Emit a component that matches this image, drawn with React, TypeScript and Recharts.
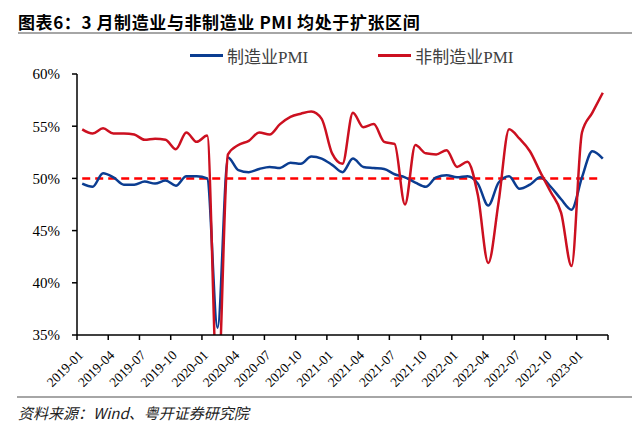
import React from 'react';
import { LineChart, Line, XAxis, YAxis, ReferenceLine } from 'recharts';

const months = [
  '2019-01', '2019-02', '2019-03', '2019-04', '2019-05', '2019-06', '2019-07', '2019-08', '2019-09', '2019-10', '2019-11', '2019-12',
  '2020-01', '2020-02', '2020-03', '2020-04', '2020-05', '2020-06', '2020-07', '2020-08', '2020-09', '2020-10', '2020-11', '2020-12',
  '2021-01', '2021-02', '2021-03', '2021-04', '2021-05', '2021-06', '2021-07', '2021-08', '2021-09', '2021-10', '2021-11', '2021-12',
  '2022-01', '2022-02', '2022-03', '2022-04', '2022-05', '2022-06', '2022-07', '2022-08', '2022-09', '2022-10', '2022-11', '2022-12',
  '2023-01', '2023-02', '2023-03',
];

// 制造业PMI
const mfgPmi = [
  49.5, 49.2, 50.5, 50.1, 49.4, 49.4, 49.7, 49.5, 49.8, 49.3, 50.2, 50.2,
  50.0, 35.7, 52.0, 50.8, 50.6, 50.9, 51.1, 51.0, 51.5, 51.4, 52.1, 51.9,
  51.3, 50.6, 51.9, 51.1, 51.0, 50.9, 50.4, 50.1, 49.6, 49.2, 50.1, 50.3,
  50.1, 50.2, 49.5, 47.4, 49.6, 50.2, 49.0, 49.4, 50.1, 49.2, 48.0, 47.0,
  50.1, 52.6, 51.9,
];

// 非制造业PMI
const nonMfgPmi = [
  54.7, 54.3, 54.8, 54.3, 54.3, 54.2, 53.7, 53.8, 53.7, 52.8, 54.4, 53.5,
  54.1, 29.6, 52.3, 53.2, 53.6, 54.4, 54.2, 55.2, 55.9, 56.2, 56.4, 55.7,
  52.4, 51.4, 56.3, 54.9, 55.2, 53.5, 53.3, 47.5, 53.2, 52.4, 52.3, 52.7,
  51.1, 51.6, 48.4, 41.9, 47.8, 54.7, 53.8, 52.6, 50.6, 48.7, 46.7, 41.6,
  54.4, 56.3, 58.2,
];

const yTicks = [35, 40, 45, 50, 55, 60];
const xTicks = [0, 3, 6, 9, 12, 15, 18, 21, 24, 27, 30, 33, 36, 39, 42, 45, 48, 51];
const threshold = 50;
const thresholdFrom = 0.5;
const thresholdTo = 50;

const data = months.map((m, i) => ({ pos: i + 0.5, month: m, mfg: mfgPmi[i], nonMfg: nonMfgPmi[i] }));

const BLUE = '#0b3d91';
const RED = '#cc1020';
const SERIF = '"Liberation Serif", "Times New Roman", "Noto Sans CJK SC", serif';
const CJK = '"Noto Sans CJK SC", sans-serif';

const XTick = (props: any) => {
  const { x, y, payload } = props;
  const label = months[payload.value];
  if (!label) return null;
  return (
    <text
      x={x + 7}
      y={y + 14}
      textAnchor="end"
      fontFamily={SERIF}
      fontSize={13.5}
      fill="#000"
      transform={`rotate(-45, ${x + 7}, ${y + 14})`}
    >
      {label}
    </text>
  );
};

export default function App() {
  return (
    <div style={{ position: 'absolute', left: 0, top: 0, width: 640, height: 431, background: '#fff', overflow: 'hidden' }}>
      <div style={{ position: 'absolute', left: 18, top: 9, fontFamily: CJK, fontWeight: 700, fontSize: 17, color: '#000', whiteSpace: 'nowrap', letterSpacing: 0.6 }}>
        图表6：3 月制造业与非制造业 PMI 均处于扩张区间
      </div>
      <div style={{ position: 'absolute', left: 18, top: 32, width: 614, height: 2, background: '#a6a6a6' }} />

      <div style={{ position: 'absolute', left: 190, top: 43, display: 'flex', alignItems: 'center', fontFamily: SERIF, fontSize: 17, color: '#404040', whiteSpace: 'nowrap' }}>
        <span style={{ display: 'inline-block', width: 33, height: 3, background: BLUE, marginRight: 4 }} />
        <span>制造业PMI</span>
        <span style={{ display: 'inline-block', width: 70 }} />
        <span style={{ display: 'inline-block', width: 33, height: 3, background: RED, marginRight: 4 }} />
        <span>非制造业PMI</span>
      </div>

      <div style={{ position: 'absolute', left: 0, top: 0 }}>
        <LineChart width={640} height={431} data={data} margin={{ top: 74, right: 32, left: 17, bottom: 36 }}>
          <XAxis
            dataKey="pos"
            type="number"
            domain={[0, 51]}
            ticks={xTicks}
            interval={0}
            tick={<XTick />}
            tickSize={5}
            axisLine={{ stroke: '#000', strokeWidth: 1.5 }}
            tickLine={{ stroke: '#000', strokeWidth: 1.5 }}
            height={60}
          />
          <YAxis
            domain={[35, 60]}
            ticks={yTicks}
            allowDataOverflow
            interval={0}
            width={60}
            tickSize={5}
            tickMargin={12}
            tickFormatter={(v: number) => `${v}%`}
            tick={{ fontFamily: SERIF, fontSize: 15, fill: '#000' }}
            axisLine={{ stroke: '#000', strokeWidth: 1.5 }}
            tickLine={{ stroke: '#000', strokeWidth: 1.5 }}
          />
          <ReferenceLine
            segment={[{ x: thresholdFrom, y: threshold }, { x: thresholdTo, y: threshold }]}
            stroke="#ff0000"
            strokeWidth={2.5}
            strokeDasharray="8 5"
          />
          <Line type="monotone" dataKey="mfg" stroke={BLUE} strokeWidth={2.5} dot={false} isAnimationActive={false} />
          <Line type="monotone" dataKey="nonMfg" stroke={RED} strokeWidth={2.5} dot={false} isAnimationActive={false} />
        </LineChart>
      </div>

      <div style={{ position: 'absolute', left: 17, top: 396, width: 615, height: 2, background: '#a6a6a6' }} />
      <div style={{ position: 'absolute', left: 18, top: 402, fontFamily: CJK, fontStyle: 'italic', fontSize: 15, color: '#222', whiteSpace: 'nowrap' }}>
        资料来源：Wind、粤开证券研究院
      </div>
    </div>
  );
}
